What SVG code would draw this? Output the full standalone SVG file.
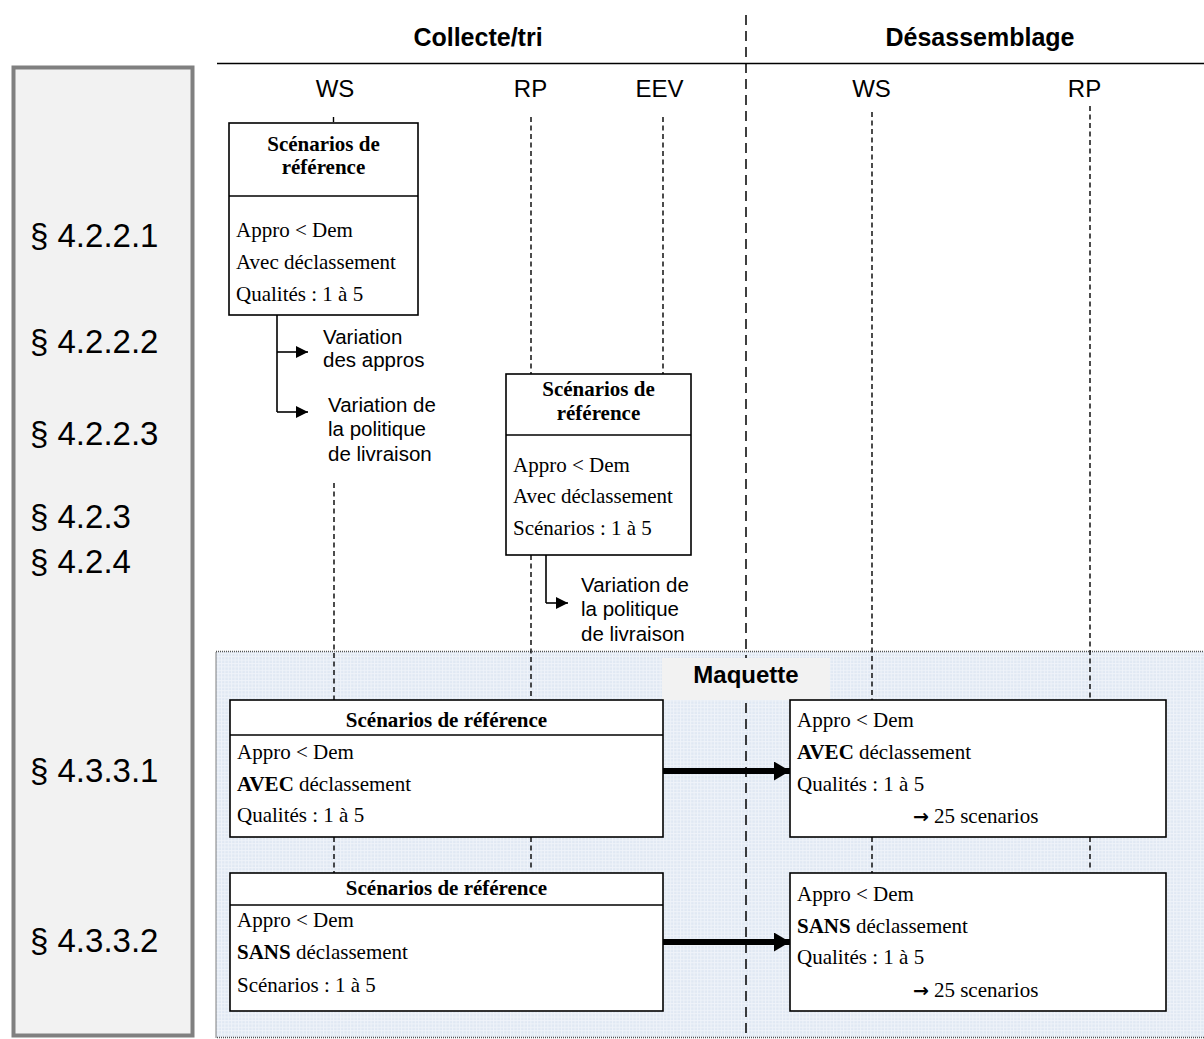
<svg xmlns="http://www.w3.org/2000/svg" width="1204" height="1039" viewBox="0 0 1204 1039">
<style>
.sans{font-family:"Liberation Sans",Arial,sans-serif;fill:#000}
.serif{font-family:"Liberation Serif","Times New Roman",serif;fill:#000;font-size:21px}
.hdr{font-size:25px;font-weight:bold;text-anchor:middle}
.col{font-size:24px;text-anchor:middle}
.sec{font-size:33px}
.var{font-size:20.5px}
.ttl{font-weight:bold;text-anchor:middle}
.arr{font-family:"DejaVu Sans",sans-serif;font-weight:bold;font-size:19px}
.box{fill:#fff;stroke:#000;stroke-width:1.6}
.div{stroke:#000;stroke-width:1.6}
.life{stroke:#000;stroke-width:1.4;stroke-dasharray:5 3.5;fill:none}
.thin{stroke:#000;stroke-width:1.6;fill:none}
.thick{stroke:#000;stroke-width:6;fill:none}
</style>
<defs>
<pattern id="grid" width="3.4" height="3.4" patternUnits="userSpaceOnUse">
<rect width="3.4" height="3.4" fill="#e0e8f3"/>
<path d="M0 0.5H3.4M0.5 0V3.4" stroke="#eff3f9" stroke-width="1"/>
</pattern>
<marker id="ah" markerUnits="userSpaceOnUse" markerWidth="13" markerHeight="13" refX="12" refY="6" orient="auto">
<path d="M0 0L12 6L0 12Z" fill="#000"/>
</marker>
<marker id="ahb" markerUnits="userSpaceOnUse" markerWidth="17" markerHeight="20" refX="16" refY="9.5" orient="auto">
<path d="M0 0L16 9.5L0 19Z" fill="#000"/>
</marker>
</defs>
<rect width="1204" height="1039" fill="#fff"/>

<g id="sections">
<rect x="13.5" y="67.5" width="179" height="968" fill="#f2f2f2" stroke="#808080" stroke-width="4"/>
<text class="sans sec" x="30" y="247">§ 4.2.2.1</text>
<text class="sans sec" x="30" y="353">§ 4.2.2.2</text>
<text class="sans sec" x="30" y="445">§ 4.2.2.3</text>
<text class="sans sec" x="30" y="528">§ 4.2.3</text>
<text class="sans sec" x="30" y="573">§ 4.2.4</text>
<text class="sans sec" x="30" y="782">§ 4.3.3.1</text>
<text class="sans sec" x="30" y="952">§ 4.3.3.2</text>
</g>

<g id="maquette">
<rect x="216" y="651.5" width="992" height="386" fill="url(#grid)" stroke="#555" stroke-width="1.5" stroke-dasharray="1 1"/>
</g>

<g id="header">
<line x1="217" y1="63.5" x2="1204" y2="63.5" stroke="#000" stroke-width="1.6"/>
<text class="sans hdr" x="478" y="46">Collecte/tri</text>
<text class="sans hdr" x="980" y="46">Désassemblage</text>
<text class="sans col" x="335" y="97">WS</text>
<text class="sans col" x="530.5" y="97">RP</text>
<text class="sans col" x="659.5" y="97">EEV</text>
<text class="sans col" x="871.5" y="97">WS</text>
<text class="sans col" x="1084.5" y="97">RP</text>
</g>

<g id="connectors">
<line x1="746" y1="15" x2="746" y2="1039" stroke="#000" stroke-width="1.5" stroke-dasharray="10 6"/>
<path class="life" d="M333.5 117V124M334 483V700M334 837V873"/>
<path class="life" d="M531 117V374M531 555V700M531 837V871"/>
<path class="life" d="M663 117V374"/>
<path class="life" d="M872 112V700M872 837V873"/>
<path class="life" d="M1090 106V700M1090 837V871"/>
<path class="thin" d="M277 315V412"/>
<line class="thin" x1="277" y1="352" x2="308" y2="352" marker-end="url(#ah)"/>
<line class="thin" x1="277" y1="412" x2="308" y2="412" marker-end="url(#ah)"/>
<path class="thin" d="M546 555V603"/>
<line class="thin" x1="546" y1="603" x2="568" y2="603" marker-end="url(#ah)"/>
<line class="thick" x1="663" y1="771" x2="790" y2="771" marker-end="url(#ahb)"/>
<line class="thick" x1="663" y1="942" x2="790" y2="942" marker-end="url(#ahb)"/>
</g>

<g id="maquette-label">
<rect x="662" y="658" width="168" height="42" fill="#f2f2f2"/>
<text class="sans" x="746" y="683" font-size="24" font-weight="bold" text-anchor="middle">Maquette</text>
</g>

<g id="ref-ws">
<rect class="box" x="229" y="123" width="189" height="192"/>
<line class="div" x1="229" y1="196" x2="418" y2="196"/>
<text class="serif ttl" x="323.5" y="151">Scénarios de</text>
<text class="serif ttl" x="323.5" y="174">référence</text>
<text class="serif" x="236" y="237">Appro &lt; Dem</text>
<text class="serif" x="236" y="269">Avec déclassement</text>
<text class="serif" x="236" y="301">Qualités : 1 à 5</text>
</g>

<g id="var-ws">
<text class="sans var" x="323" y="344">Variation</text>
<text class="sans var" x="323" y="367">des appros</text>
<text class="sans var" x="328" y="412">Variation de</text>
<text class="sans var" x="328" y="436">la politique</text>
<text class="sans var" x="328" y="461">de livraison</text>
</g>

<g id="ref-rp">
<rect class="box" x="506" y="374" width="185" height="181"/>
<line class="div" x1="506" y1="435" x2="691" y2="435"/>
<text class="serif ttl" x="598.5" y="396">Scénarios de</text>
<text class="serif ttl" x="598.5" y="420">référence</text>
<text class="serif" x="513" y="472">Appro &lt; Dem</text>
<text class="serif" x="513" y="503">Avec déclassement</text>
<text class="serif" x="513" y="535">Scénarios : 1 à 5</text>
</g>

<g id="var-rp">
<text class="sans var" x="581" y="592">Variation de</text>
<text class="sans var" x="581" y="616">la politique</text>
<text class="sans var" x="581" y="641">de livraison</text>
</g>

<g id="maq-ref-avec">
<rect class="box" x="230" y="700" width="433" height="137"/>
<line class="div" x1="230" y1="735" x2="663" y2="735"/>
<text class="serif ttl" x="446.5" y="727">Scénarios de référence</text>
<text class="serif" x="237" y="759">Appro &lt; Dem</text>
<text class="serif" x="237" y="791"><tspan font-weight="bold">AVEC</tspan> déclassement</text>
<text class="serif" x="237" y="822">Qualités : 1 à 5</text>
</g>

<g id="maq-ref-sans">
<rect class="box" x="230" y="873" width="433" height="138"/>
<line class="div" x1="230" y1="905" x2="663" y2="905"/>
<text class="serif ttl" x="446.5" y="895">Scénarios de référence</text>
<text class="serif" x="237" y="927">Appro &lt; Dem</text>
<text class="serif" x="237" y="959"><tspan font-weight="bold">SANS</tspan> déclassement</text>
<text class="serif" x="237" y="992">Scénarios : 1 à 5</text>
</g>

<g id="maq-des-avec">
<rect class="box" x="790" y="700" width="376" height="137"/>
<text class="serif" x="797" y="727">Appro &lt; Dem</text>
<text class="serif" x="797" y="759"><tspan font-weight="bold">AVEC</tspan> déclassement</text>
<text class="serif" x="797" y="791">Qualités : 1 à 5</text>
<text class="serif" x="913" y="823"><tspan class="arr">→</tspan><tspan dx="5">25 scenarios</tspan></text>
</g>

<g id="maq-des-sans">
<rect class="box" x="790" y="873" width="376" height="138"/>
<text class="serif" x="797" y="901">Appro &lt; Dem</text>
<text class="serif" x="797" y="933"><tspan font-weight="bold">SANS</tspan> déclassement</text>
<text class="serif" x="797" y="964">Qualités : 1 à 5</text>
<text class="serif" x="913" y="997"><tspan class="arr">→</tspan><tspan dx="5">25 scenarios</tspan></text>
</g>
</svg>
